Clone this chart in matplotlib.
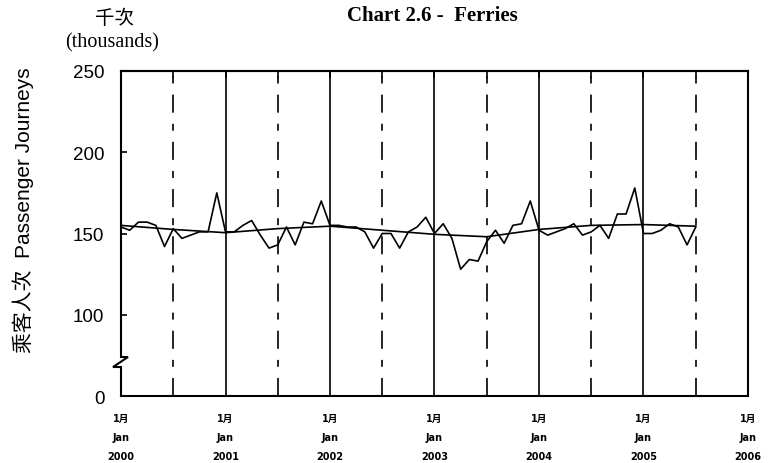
import matplotlib
matplotlib.use("Agg")
import matplotlib.pyplot as plt
import numpy as np

# monthly passenger journeys (thousands), Jan 2000 - Jul 2005
journeys_2000 = [154, 152, 157, 157, 155, 142, 153, 147, 149, 151, 151, 175]
journeys_2001 = [151, 151, 155, 158, 149, 141, 143, 154, 143, 157, 156, 170]
journeys_2002 = [155, 155, 154, 154, 151, 141, 150, 150, 141, 151, 154, 160]
journeys_2003 = [150, 156, 147, 128, 134, 133, 145, 152, 144, 155, 156, 170]
journeys_2004 = [152, 149, 151, 153, 156, 149, 151, 155, 147, 162, 162, 178]
journeys_2005 = [150, 150, 152, 156, 154, 143, 154]

# trend at each Jan / Jul
trend = [155, 152.5, 150.5, 153, 154.5, 152, 149.5, 148, 152.5, 155, 155.5, 154.5]

years = ["2000", "2001", "2002", "2003", "2004", "2005", "2006"]
ytick_vals = [50, 100, 150, 200, 250]
ytick_labels = ["0", "100", "150", "200", "250"]

journeys = np.array(journeys_2000 + journeys_2001 + journeys_2002 +
                    journeys_2003 + journeys_2004 + journeys_2005)
months = np.arange(len(journeys))
trend_x = np.arange(len(trend)) * 6

plt.rcParams['lines.scale_dashes'] = False

fig = plt.figure(figsize=(7.69, 4.64), dpi=100)
ax = fig.add_axes([121 / 769, 1 - 397 / 464, 627 / 769, 325 / 464])

ax.plot(months, journeys, color="black", linewidth=1.2)
ax.plot(trend_x, trend, color="black", linewidth=1.2)

# year and half-year separators
for i in range(1, len(years) - 1):
    ax.axvline(12 * i, color="black", linewidth=1.2)
for i in range(len(years) - 1):
    ax.axvline(12 * i + 6, color="black", linewidth=1.2,
               linestyle=(0, (13, 8, 5, 8)))

ax.set_xlim(0, 72)
ax.set_ylim(50, 250)

ax.set_yticks(ytick_vals)
ax.set_yticklabels(ytick_labels, family="Liberation Sans", fontsize=13.5)
ax.tick_params(axis="y", direction="in", length=4, width=1.2, pad=12)

ax.set_xticks(np.arange(len(years)) * 12)
ax.set_xticklabels(["1月\nJan\n" + y for y in years],
                   family=["DejaVu Sans", "Noto Sans CJK TC"],
                   fontsize=7, fontweight="bold", linespacing=2.15)
ax.tick_params(axis="x", length=0, pad=12)

# half-year ticks along the top
ax_top = ax.secondary_xaxis("top")
ax_top.set_xticks(np.arange(0, 73, 6))
ax_top.set_xticklabels([])
ax_top.tick_params(direction="in", length=5, width=1.2)
ax_top.spines["top"].set_linewidth(1.5)

for s in ["top", "right", "bottom"]:
    ax.spines[s].set_linewidth(1.5)
ax.spines["left"].set_visible(False)

# left axis with a break mark
dx1 = 7 / 627
dx2 = 8 / 627
yb1 = 39 / 325
yb2 = 29 / 325
ax.plot([0, 0, dx1, -dx2, 0, 0], [1, yb1, yb1, yb2, yb2, 0],
        transform=ax.transAxes, color="black", linewidth=1.5,
        clip_on=False, solid_joinstyle="miter")

fig.text(432 / 769, 1 - 16 / 464, "Chart 2.6 -  Ferries", ha="center", va="center",
         family="Liberation Serif", fontweight="bold", fontsize=15)
fig.text(114 / 769, 1 - 18 / 464, "千次", ha="center", va="center",
         family="Noto Sans CJK TC", fontsize=14)
fig.text(112 / 769, 1 - 43 / 464, "(thousands)", ha="center", va="center",
         family="Liberation Serif", fontsize=14.5)
fig.text(23 / 769, 1 - 210 / 464, "乘客人次  Passenger Journeys", ha="center",
         va="center", rotation=90, family=["Liberation Sans", "Noto Sans CJK TC"],
         fontsize=15)

fig.savefig("out.png", dpi=100)
